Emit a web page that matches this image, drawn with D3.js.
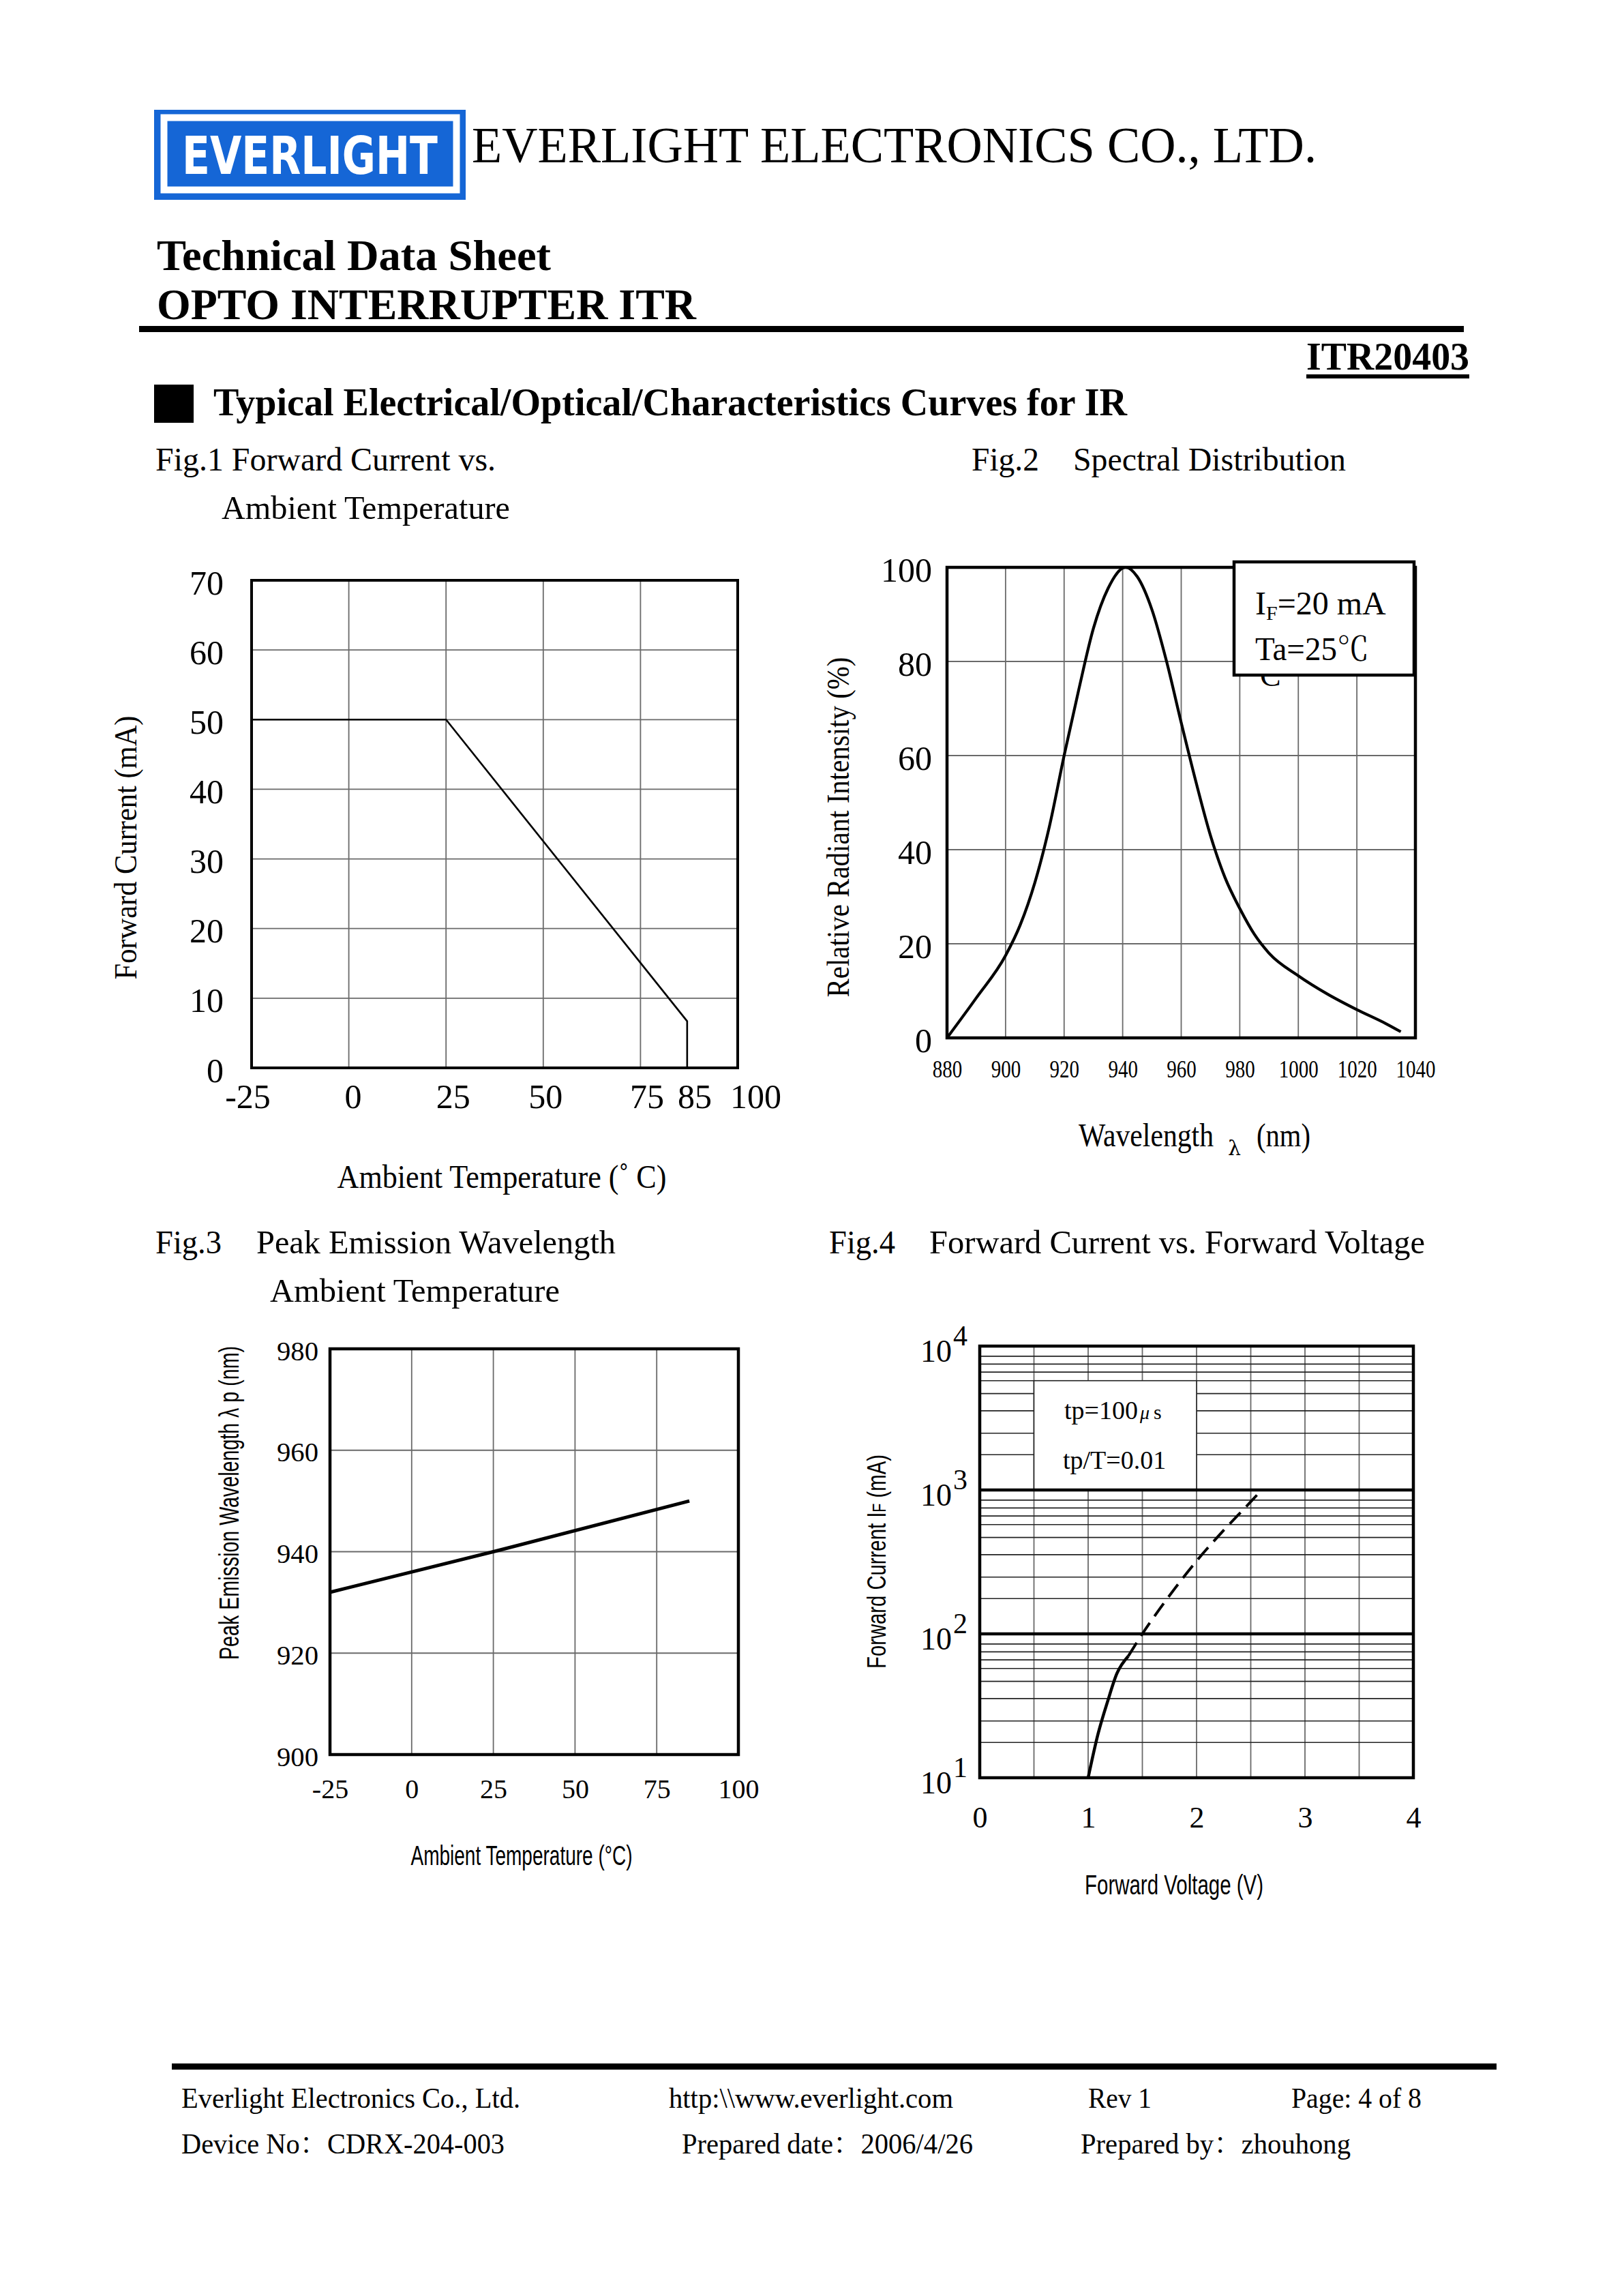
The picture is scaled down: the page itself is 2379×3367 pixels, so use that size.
<!DOCTYPE html>
<html>
<head>
<meta charset="utf-8">
<script src="https://cdn.jsdelivr.net/npm/d3@7"></script>
<style>
  html, body { margin: 0; padding: 0; background: #fff; }
  svg { display: block; }
</style>
</head>
<body>
<svg id="page" width="2379" height="3367"></svg>
<script>
// ============ Data ============
// Fig.1 Forward current vs ambient temperature (derating)
const fig1Temp = [-25, 25, 87, 87];
const fig1Current = [50, 50, 6.7, 0];
const fig1XTicks = [-25, 0, 25, 50, 75, 85, 100];
const fig1XGrid = [-25, 0, 25, 50, 75, 100];
const fig1YTicks = [0, 10, 20, 30, 40, 50, 60, 70];

// Fig.2 Spectral distribution
const fig2Wave = [880, 890, 900, 905, 910, 915, 920, 925, 930, 935, 941, 945, 950, 955, 960, 965, 970, 975, 980, 985, 990, 1000, 1010, 1020, 1030, 1035];
const fig2Intensity = [0, 8.5, 17.5, 24, 33, 45, 60, 74, 87, 95.5, 100, 98, 91, 80, 67, 54.5, 43, 34, 27.5, 22, 18, 13.2, 9.3, 6, 3, 1.3];
const fig2XTicks = [880, 900, 920, 940, 960, 980, 1000, 1020, 1040];
const fig2YTicks = [0, 20, 40, 60, 80, 100];

// Fig.3 Peak emission wavelength vs ambient temperature
const fig3Temp = [-25, 25, 85];
const fig3Peak = [932, 940, 950];
const fig3XTicks = [-25, 0, 25, 50, 75, 100];
const fig3YTicks = [900, 920, 940, 960, 980];

// Fig.4 Forward current vs forward voltage
const fig4SolidV = [1.0, 1.09, 1.18, 1.265, 1.37];
const fig4SolidI = [10, 20, 34, 53, 70];
const fig4DashV = [1.37, 1.5, 1.66, 1.8, 2.0, 2.24, 2.49, 2.6];
const fig4DashI = [70, 100, 149, 207, 321, 515, 813, 1000];
const fig4XTicks = [0, 1, 2, 3, 4];
const fig4XGrid = [0, 0.5, 1, 1.5, 2, 2.5, 3, 3.5, 4];
const fig4Decades = [10, 100, 1000, 10000];
const fig4Exponents = ["1", "2", "3", "4"];
const fig4MinorSteps = [1.76, 2.48, 3.55, 4.68, 5.75, 6.6, 7.5, 8.5];

// ============ Setup ============
const SERIF = "'Liberation Serif','Times New Roman','Noto Serif CJK SC','Noto Sans CJK SC',serif";
const NARROW = "'Liberation Sans Narrow','Liberation Sans',Arial,sans-serif";
const GRID = "#6a6a6a";
const svg = d3.select("#page");
svg.append("rect").attr("width", 2379).attr("height", 3367).attr("fill", "#fff");

function label(g, x, y, str, o = {}){
  const t = g.append("text")
    .attr("x", x).attr("y", y)
    .attr("font-family", o.family || SERIF)
    .attr("font-size", o.size || 46)
    .attr("font-weight", o.weight || "normal")
    .attr("text-anchor", o.anchor || "start")
    .attr("fill", "#000")
    .text(str);
  if(o.len) t.attr("textLength", o.len).attr("lengthAdjust", "spacingAndGlyphs");
  if(o.rotate) t.attr("transform", `rotate(-90,${x},${y})`);
  return t;
}

function gridLines(g, x, y, xs, ys, w, h, color, sw){
  g.append("g").selectAll("line").data(xs).enter().append("line")
    .attr("x1", d => x(d)).attr("x2", d => x(d)).attr("y1", 0).attr("y2", h)
    .attr("stroke", color).attr("stroke-width", sw);
  g.append("g").selectAll("line").data(ys).enter().append("line")
    .attr("x1", 0).attr("x2", w).attr("y1", d => y(d)).attr("y2", d => y(d))
    .attr("stroke", color).attr("stroke-width", sw);
}

function frame(g, w, h, sw){
  g.append("rect").attr("width", w).attr("height", h)
    .attr("fill", "none").attr("stroke", "#000").attr("stroke-width", sw);
}

function bottomLabels(g, x, h, values, off, family, size, fmt){
  const ax = g.append("g").attr("transform", `translate(0,${h})`)
    .call(d3.axisBottom(x).tickValues(values).tickSize(0).tickFormat(fmt || (d => d)));
  ax.select(".domain").remove();
  ax.selectAll("text").attr("y", off).attr("dy", null)
    .attr("font-family", family).attr("font-size", size).attr("fill", "#000");
  return ax;
}

function leftLabels(g, y, values, gap, family, size, dy){
  const ax = g.append("g")
    .call(d3.axisLeft(y).tickValues(values).tickSize(0).tickFormat(d => d));
  ax.select(".domain").remove();
  ax.selectAll("text").attr("x", -gap).attr("dy", dy)
    .attr("font-family", family).attr("font-size", size).attr("fill", "#000");
  return ax;
}

// ============ Header ============
const head = svg.append("g");
head.append("rect").attr("x", 226).attr("y", 161).attr("width", 457).attr("height", 132).attr("fill", "#1566d6");
head.append("rect").attr("x", 240.5).attr("y", 172.5).attr("width", 429).attr("height", 106)
  .attr("fill", "none").attr("stroke", "#fff").attr("stroke-width", 10);
label(head, 267, 255, "EVERLIGHT", {family: "'DejaVu Sans',sans-serif", size: 76, weight: "bold", len: 375}).attr("fill", "#fff");
label(head, 692, 238, "EVERLIGHT ELECTRONICS CO., LTD.", {size: 74, len: 1239});
label(head, 230, 396, "Technical Data Sheet", {size: 64, weight: "bold", len: 578});
label(head, 230, 468, "OPTO INTERRUPTER ITR", {size: 64, weight: "bold", len: 791});
head.append("rect").attr("x", 204).attr("y", 478).attr("width", 1943).attr("height", 9).attr("fill", "#000");
label(head, 2155, 542, "ITR20403", {size: 56, weight: "bold", anchor: "end", len: 239});
head.append("rect").attr("x", 1916).attr("y", 549).attr("width", 239).attr("height", 6).attr("fill", "#000");
head.append("rect").attr("x", 226).attr("y", 564).attr("width", 58).attr("height", 56).attr("fill", "#000");
label(head, 313, 609, "Typical Electrical/Optical/Characteristics Curves for IR", {size: 56, weight: "bold", len: 1340});

// Figure captions
label(head, 228, 690, "Fig.1 Forward Current vs.", {size: 48, len: 499});
label(head, 325, 761, "Ambient Temperature", {size: 48, len: 423});
label(head, 1425, 690, "Fig.2", {size: 48, len: 99});
label(head, 1574, 690, "Spectral Distribution", {size: 48, len: 400});
label(head, 228, 1838, "Fig.3", {size: 48, len: 97});
label(head, 376, 1838, "Peak Emission Wavelength", {size: 48, len: 527});
label(head, 396, 1909, "Ambient Temperature", {size: 48, len: 425});
label(head, 1216, 1838, "Fig.4", {size: 48, len: 97});
label(head, 1363, 1838, "Forward Current vs. Forward Voltage", {size: 48, len: 727});

// ============ Fig.1 ============
(function(){
  const L = 369, T = 851, w = 713, h = 715;
  const g = svg.append("g").attr("transform", `translate(${L},${T})`);
  const x = d3.scaleLinear().domain([-25, 100]).range([0, w]);
  const y = d3.scaleLinear().domain([0, 70]).range([h, 0]);
  gridLines(g, x, y, fig1XGrid, fig1YTicks, w, h, GRID, 1.8);
  const pts = fig1Temp.map((t, i) => [t, fig1Current[i]]);
  g.append("path").datum(pts)
    .attr("d", d3.line().x(d => x(d[0])).y(d => y(d[1])))
    .attr("fill", "none").attr("stroke", "#000").attr("stroke-width", 2.6);
  frame(g, w, h, 4);
  leftLabels(g, y, fig1YTicks, 41, SERIF, 50, "0.4em");
  // labels in the sheet sit a little right of their grid lines
  const nudge = {"-25": -6, "0": 6, "25": 10, "50": 3, "75": 9, "85": 22, "100": 26};
  bottomLabels(g, x, h, fig1XTicks, 59, SERIF, 50)
    .selectAll("text").attr("dx", d => nudge[d] || 0);
  label(svg, 200, 1243, "Forward Current (mA)", {size: 46, anchor: "middle", rotate: true, len: 387});
  label(svg, 736, 1742, "Ambient Temperature (˚  C)", {size: 48, anchor: "middle", len: 483});
})();

// ============ Fig.2 ============
(function(){
  const L = 1389, T = 832, w = 687, h = 690;
  const g = svg.append("g").attr("transform", `translate(${L},${T})`);
  const x = d3.scaleLinear().domain([880, 1040]).range([0, w]);
  const y = d3.scaleLinear().domain([0, 100]).range([h, 0]);
  gridLines(g, x, y, fig2XTicks, fig2YTicks, w, h, GRID, 1.8);
  const pts = fig2Wave.map((v, i) => [v, fig2Intensity[i]]);
  g.append("path").datum(pts)
    .attr("d", d3.line().x(d => x(d[0])).y(d => y(d[1])).curve(d3.curveMonotoneX))
    .attr("fill", "none").attr("stroke", "#000").attr("stroke-width", 4.2);
  frame(g, w, h, 4.5);
  leftLabels(g, y, fig2YTicks, 22, SERIF, 50, "0.4em");
  bottomLabels(g, x, h, fig2XTicks, 58, SERIF, 36)
    .selectAll("text")
    .attr("textLength", d => String(d).length * 14.5)
    .attr("lengthAdjust", "spacingAndGlyphs");

  // stray glyph peeking out under the legend box, as on the sheet
  label(svg, 1848, 1006, "C", {size: 46});
  // legend box
  svg.append("rect").attr("x", 1810).attr("y", 824).attr("width", 264).attr("height", 166)
    .attr("fill", "#fff").attr("stroke", "#000").attr("stroke-width", 4.5);
  const t1 = label(svg, 1841, 901, "I", {size: 48});
  t1.append("tspan").attr("font-size", 30).attr("dy", 8).text("F");
  t1.append("tspan").attr("dy", -8).text("=20 mA");
  label(svg, 1841, 968, "Ta=25℃", {size: 48, len: 167});

  label(svg, 1245, 1213, "Relative Radiant Intensity (%)", {size: 46, anchor: "middle", rotate: true, len: 499});
  label(svg, 1582, 1681, "Wavelength", {size: 48, len: 198});
  label(svg, 1801, 1694, "λ", {size: 30, family: "'DejaVu Serif',serif"});
  label(svg, 1843, 1681, "(nm)", {size: 48, len: 79});
})();

// ============ Fig.3 ============
(function(){
  const L = 484, T = 1978, w = 599, h = 595;
  const g = svg.append("g").attr("transform", `translate(${L},${T})`);
  const x = d3.scaleLinear().domain([-25, 100]).range([0, w]);
  const y = d3.scaleLinear().domain([900, 980]).range([h, 0]);
  gridLines(g, x, y, fig3XTicks, fig3YTicks, w, h, GRID, 1.8);
  const pts = fig3Temp.map((t, i) => [t, fig3Peak[i]]);
  g.append("path").datum(pts)
    .attr("d", d3.line().x(d => x(d[0])).y(d => y(d[1])))
    .attr("fill", "none").attr("stroke", "#000").attr("stroke-width", 5);
  frame(g, w, h, 4.5);
  leftLabels(g, y, fig3YTicks, 17, SERIF, 40, "0.4em")
    .selectAll("text").attr("textLength", 61).attr("lengthAdjust", "spacingAndGlyphs");
  bottomLabels(g, x, h, fig3XTicks, 64, SERIF, 40);
  label(svg, 350, 2204, "Peak Emission Wavelength  λ p (nm)", {size: 40, family: NARROW, anchor: "middle", rotate: true, len: 460});
  label(svg, 765, 2735, "Ambient Temperature (°C)", {size: 40, family: NARROW, anchor: "middle", len: 325});
})();

// ============ Fig.4 ============
(function(){
  const L = 1437, T = 1974, w = 636, h = 633;
  const g = svg.append("g").attr("transform", `translate(${L},${T})`);
  const x = d3.scaleLinear().domain([0, 4]).range([0, w]);
  const y = d3.scaleLog().domain([10, 10000]).range([h, 0]);
  const minor = [];
  fig4Decades.slice(0, 3).forEach(dec => fig4MinorSteps.forEach(m => minor.push(dec * m)));
  gridLines(g, x, y, fig4XGrid, [], w, h, GRID, 1.8);
  gridLines(g, x, y, [], minor, w, h, "#222", 1.6);

  // legend box (covers the grid from 0.5 V to 2.0 V, 10^3 up to a minor line)
  const boxTop = 1000 * fig4MinorSteps[4];
  g.append("rect")
    .attr("x", x(0.5)).attr("y", y(boxTop))
    .attr("width", x(2.0) - x(0.5)).attr("height", y(1000) - y(boxTop))
    .attr("fill", "#fff").attr("stroke", "#222").attr("stroke-width", 1.6);
  const lt1 = label(svg, 1561, 2081, "tp=100", {size: 38});
  lt1.append("tspan").attr("font-size", 28).attr("font-style", "italic").attr("dx", 3).text("μ");
  lt1.append("tspan").attr("font-size", 30).attr("dx", 6).text("s");
  label(svg, 1559, 2154, "tp/T=0.01", {size: 38});

  g.append("g").selectAll("line").data([100, 1000]).enter().append("line")
    .attr("x1", 0).attr("x2", w).attr("y1", d => y(d)).attr("y2", d => y(d))
    .attr("stroke", "#000").attr("stroke-width", 4.5);

  const line = d3.line().x(d => x(d[0])).y(d => y(d[1])).curve(d3.curveMonotoneX);
  g.append("path").datum(fig4SolidV.map((v, i) => [v, fig4SolidI[i]]))
    .attr("d", line).attr("fill", "none").attr("stroke", "#000").attr("stroke-width", 4.5);
  g.append("path").datum(fig4DashV.map((v, i) => [v, fig4DashI[i]]))
    .attr("d", line).attr("fill", "none").attr("stroke", "#000").attr("stroke-width", 4)
    .attr("stroke-dasharray", "23,12");
  frame(g, w, h, 4.5);

  // y labels: 10 with superscript exponent
  const ay = g.append("g").call(d3.axisLeft(y).tickValues(fig4Decades).tickSize(0).tickFormat(""));
  ay.select(".domain").remove();
  ay.selectAll("text").attr("x", -87).attr("dy", 22).attr("text-anchor", "start")
    .attr("font-family", SERIF).attr("font-size", 46).attr("fill", "#000")
    .each(function(d, i){
      const t = d3.select(this);
      t.append("tspan").text("10");
      t.append("tspan").attr("font-size", 42).attr("dy", -24).attr("dx", 2).text(fig4Exponents[i]);
    });
  bottomLabels(g, x, h, fig4XTicks, 73, SERIF, 44);

  const yt = label(svg, 1299, 2290, "Forward Current I", {size: 38, family: NARROW, anchor: "middle", rotate: true, len: 314});
  yt.append("tspan").attr("font-size", 28).text("F");
  yt.append("tspan").text(" (mA)");
  label(svg, 1722, 2778, "Forward Voltage (V)", {size: 40, family: NARROW, anchor: "middle", len: 262});
})();

// ============ Footer ============
const foot = svg.append("g");
foot.append("rect").attr("x", 252).attr("y", 3026).attr("width", 1943).attr("height", 9).attr("fill", "#000");
label(foot, 266, 3091, "Everlight Electronics Co., Ltd.", {size: 42, len: 497});
label(foot, 981, 3091, "http:\\\\www.everlight.com", {size: 42, len: 417});
label(foot, 1596, 3091, "Rev 1", {size: 42, len: 93});
label(foot, 1894, 3091, "Page: 4 of 8", {size: 42, len: 191});
label(foot, 266, 3158, "Device No：CDRX-204-003", {size: 42, len: 474});
label(foot, 1000, 3158, "Prepared date：2006/4/26", {size: 42, len: 427});
label(foot, 1585, 3158, "Prepared by：zhouhong", {size: 42, len: 396});
</script>
</body>
</html>
